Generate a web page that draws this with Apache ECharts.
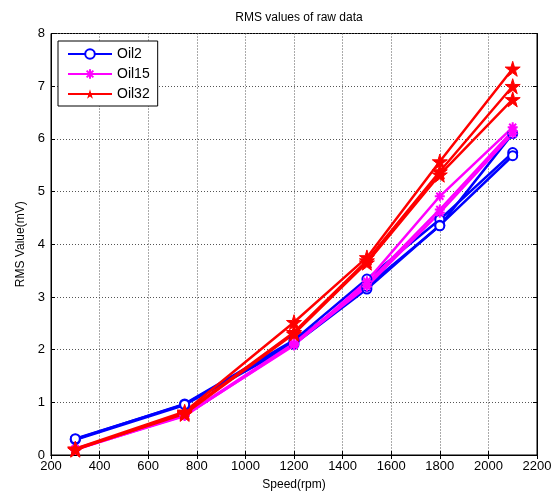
<!DOCTYPE html>
<html><head><meta charset="utf-8">
<script src="https://cdn.jsdelivr.net/npm/echarts@6/dist/echarts.min.js"></script>
<style>html,body{margin:0;padding:0;background:#fff}#c{width:556px;height:496px}</style>
</head><body><div id="c"></div>
<script>
const speeds = [300, 750, 1200, 1500, 1800, 2100];
const oil2 = [
  [0.30, 0.97, 2.18, 3.34, 4.47, 5.74],
  [0.29, 0.95, 2.10, 3.15, 4.36, 5.68],
  [0.31, 0.96, 2.15, 3.20, 4.35, 6.10]
];
const oil15 = [
  [0.12, 0.75, 2.08, 3.30, 4.91, 6.22],
  [0.10, 0.76, 2.12, 3.25, 4.66, 6.15],
  [0.11, 0.74, 2.10, 3.20, 4.60, 6.10]
];
const oil32 = [
  [0.12, 0.82, 2.52, 3.75, 5.57, 7.33],
  [0.10, 0.80, 2.33, 3.69, 5.38, 7.00],
  [0.11, 0.78, 2.30, 3.65, 5.32, 6.75]
];
const xTicks = {min: 200, max: 2200, interval: 200};
const yTicks = {min: 0, max: 8, interval: 1};

const font = 'Liberation Sans, Arial, sans-serif';
const starPath = 'path://M50,0L61,35L98,35L68,57L79,91L50,70L21,91L32,57L2,35L39,35Z';
const astPath = 'path://M0,5L10,5M5,0L5,10M1.5,1.5L8.5,8.5M1.5,8.5L8.5,1.5';

function mk(name, arr, color, symbol, size, extra) {
  return arr.map(vals => Object.assign({
    name: name, type: 'line',
    data: speeds.map((s, i) => [s, vals[i]]),
    symbol: symbol, symbolSize: size,
    lineStyle: {color: color, width: 2.5},
    itemStyle: {color: color, borderColor: color},
    emphasis: {disabled: true},
    animation: false,
    z: 3
  }, extra || {}));
}

const series = [].concat(
  mk('Oil2', oil2, '#0000ff', 'emptyCircle', 9, {itemStyle: {color: '#0000ff', borderColor: '#0000ff', borderWidth: 2.5}}),
  mk('Oil15', oil15, '#ff00ff', astPath, 10, {itemStyle: {color: 'rgba(0,0,0,0)', borderColor: '#ff00ff', borderWidth: 2}}),
  mk('Oil32', oil32, '#ff0000', starPath, 15)
);

const chart = echarts.init(document.getElementById('c'), null, {renderer: 'canvas'});
chart.setOption({
  backgroundColor: '#fff',
  animation: false,
  title: {
    text: 'RMS values of raw data', left: 294, top: 7, textAlign: 'center',
    textStyle: {fontFamily: font, fontSize: 12, fontWeight: 'normal', color: '#000'}
  },
  legend: {
    data: ['Oil2', 'Oil15', 'Oil32'],
    orient: 'vertical', left: 58, top: 41,
    backgroundColor: '#fff', borderColor: '#000', borderWidth: 1,
    padding: [6, 8, 5, 9], itemWidth: 44, itemHeight: 12, itemGap: 6,
    textStyle: {fontFamily: font, fontSize: 14, color: '#000'}
  },
  grid: {left: 51, right: 19, top: 33.5, bottom: 39, show: true, borderColor: '#000', borderWidth: 1},
  xAxis: [{
    type: 'value', min: xTicks.min, max: xTicks.max, interval: xTicks.interval,
    name: 'Speed(rpm)', nameLocation: 'middle', nameGap: 24,
    nameTextStyle: {fontFamily: font, fontSize: 12, color: '#000'},
    axisLine: {show: true, onZero: false, lineStyle: {color: '#000'}},
    axisTick: {show: true, inside: true, length: 4, lineStyle: {color: '#000'}},
    axisLabel: {fontFamily: font, fontSize: 13, color: '#000', margin: 5, formatter: v => String(v)},
    splitLine: {show: true, lineStyle: {color: '#555', type: [1, 2], width: 1}}
  }, {
    type: 'value', position: 'top', min: xTicks.min, max: xTicks.max, interval: xTicks.interval,
    axisLine: {show: true, lineStyle: {color: '#000'}},
    axisTick: {show: true, inside: true, length: 4, lineStyle: {color: '#000'}},
    axisLabel: {show: false}, splitLine: {show: false}
  }],
  yAxis: [{
    type: 'value', min: yTicks.min, max: yTicks.max, interval: yTicks.interval,
    name: 'RMS Value(mV)', nameLocation: 'middle', nameGap: 20,
    nameTextStyle: {fontFamily: font, fontSize: 12, color: '#000'},
    axisLine: {show: true, lineStyle: {color: '#000'}},
    axisTick: {show: true, inside: true, length: 4, lineStyle: {color: '#000'}},
    axisLabel: {fontFamily: font, fontSize: 13, color: '#000', margin: 6},
    splitLine: {show: true, lineStyle: {color: '#555', type: [1, 2], width: 1}}
  }, {
    type: 'value', position: 'right', min: yTicks.min, max: yTicks.max, interval: yTicks.interval,
    axisLine: {show: true, lineStyle: {color: '#000'}},
    axisTick: {show: true, inside: true, length: 4, lineStyle: {color: '#000'}},
    axisLabel: {show: false}, splitLine: {show: false}
  }],
  series: series
});
</script></body></html>
